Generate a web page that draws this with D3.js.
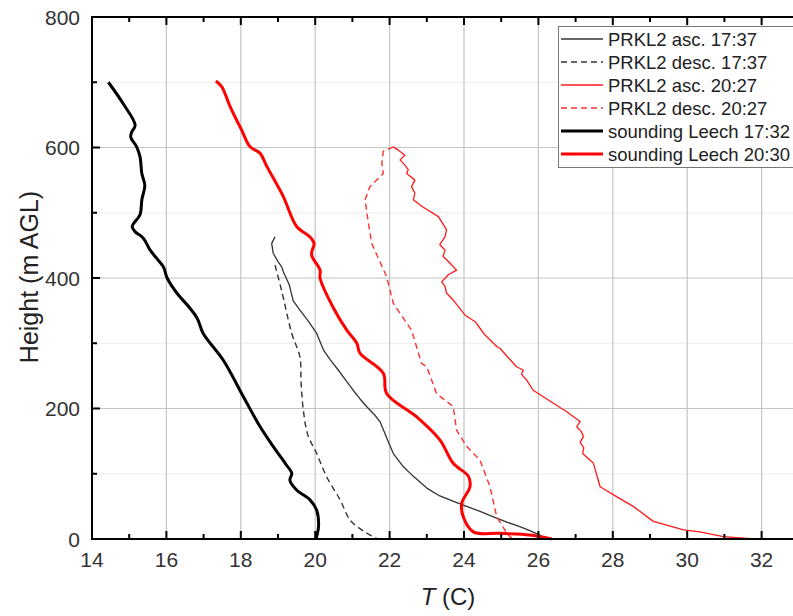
<!DOCTYPE html>
<html>
<head>
<meta charset="utf-8">
<script src="https://cdn.jsdelivr.net/npm/d3@7"></script>
<style>
  body { margin: 0; background: #fff; }
  svg { display: block; font-family: "Liberation Sans", Arial, sans-serif; }
</style>
</head>
<body>
<div id="chart"></div>
<script>
// Data: [temperature (C), height (m AGL)]
const soundingLeech1732 = [
  [14.44, 700], [14.84, 667], [15.16, 634], [15.07, 624], [15.04, 616], [15.2, 601],
  [15.29, 586], [15.34, 560], [15.42, 542], [15.34, 520], [15.29, 497], [15.08, 479],
  [15.16, 471], [15.38, 461], [15.56, 443], [15.74, 430], [15.92, 417], [16.02, 400],
  [16.28, 377], [16.63, 354], [16.83, 338], [16.99, 315], [17.53, 274], [18.07, 218],
  [18.52, 172], [18.87, 142], [19.23, 113], [19.37, 101], [19.32, 90], [19.5, 75],
  [19.86, 60], [20.04, 44], [20.09, 19], [20.04, 4], [20.02, 0]
];
const soundingLeech2030 = [
  [17.33, 702], [17.49, 693], [17.71, 663], [18.02, 627], [18.25, 601], [18.52, 591],
  [18.7, 571], [19.14, 525], [19.5, 479], [19.86, 463], [19.97, 453], [19.9, 436],
  [20.13, 412], [20.13, 400], [20.49, 354], [20.85, 320], [21.12, 300], [21.2, 285],
  [21.83, 254], [21.92, 223], [22.73, 187], [23.35, 152], [23.71, 116], [24.12, 96],
  [24.16, 80], [23.94, 55], [23.98, 34], [24.25, 11], [24.97, 8.7], [25.77, 6],
  [26.36, 0]
];
const prkl2Asc1737 = [
  [18.92, 463], [18.83, 453], [18.87, 438], [19.0, 425], [19.1, 417], [19.14, 410],
  [19.3, 390], [19.41, 365], [19.6, 350], [19.8, 335], [20.04, 315], [20.22, 290],
  [20.4, 275], [20.62, 259], [20.8, 245], [21.02, 228], [21.2, 215], [21.38, 203],
  [21.6, 190], [21.74, 180], [21.85, 165], [21.92, 155], [22.1, 131], [22.35, 112],
  [22.64, 96], [23.0, 78], [23.35, 66], [23.7, 58], [24.07, 50], [24.45, 42],
  [24.79, 34], [25.15, 26], [25.5, 19], [25.8, 12], [26.04, 6], [26.15, 0]
];
const prkl2Desc1737 = [
  [18.92, 420], [19.1, 380], [19.37, 315], [19.59, 279], [19.62, 240], [19.68, 198],
  [19.8, 160], [20.04, 131], [20.31, 95], [20.67, 60], [20.94, 29], [21.3, 12],
  [21.65, 1]
];
const prkl2Asc2027 = [
  [22.1, 601], [22.23, 596], [22.41, 588], [22.28, 581], [22.41, 573], [22.5, 566],
  [22.46, 560], [22.68, 550], [22.59, 540], [22.68, 530], [22.64, 520], [22.82, 512],
  [22.95, 507], [23.31, 494], [23.4, 486], [23.53, 474], [23.49, 463], [23.35, 451],
  [23.49, 443], [23.44, 433], [23.62, 423], [23.8, 412], [23.58, 405], [23.4, 394],
  [23.49, 387], [23.53, 377], [23.71, 366], [23.85, 356], [24.03, 343], [24.3, 333],
  [24.43, 323], [24.56, 313], [24.88, 295], [24.97, 292], [25.41, 264], [25.59, 259],
  [25.55, 252], [25.68, 244], [25.86, 228], [26.13, 218], [26.76, 195], [27.12, 180],
  [27.03, 172], [27.15, 165], [27.21, 157], [27.12, 148], [27.22, 140], [27.19, 131],
  [27.48, 116], [27.66, 80], [28.1, 65], [28.55, 50], [29.09, 27], [29.9, 14],
  [30.34, 11], [30.97, 3.5], [31.8, 0]
];
const prkl2Desc2027 = [
  [22.1, 601], [21.83, 594], [21.79, 576], [21.83, 560], [21.47, 540], [21.34, 520],
  [21.43, 484], [21.52, 453], [21.92, 402], [22.1, 361], [22.59, 320], [22.86, 269],
  [23.0, 264], [23.26, 223], [23.71, 203], [23.8, 167], [24.07, 142], [24.43, 121],
  [24.7, 80], [24.88, 34], [25.15, 9], [25.3, 0]
];

const legendLabels = [
  "PRKL2 asc. 17:37", "PRKL2 desc. 17:37", "PRKL2 asc. 20:27",
  "PRKL2 desc. 20:27", "sounding Leech 17:32", "sounding Leech 20:30"
];
const xTicks = [14, 16, 18, 20, 22, 24, 26, 28, 30, 32];
const yTicks = [0, 200, 400, 600, 800];

const width = 793, height = 616;
const plotLeft = 92, plotTop = 17, plotBottom = 539;

const x = d3.scaleLinear().domain([14, 33]).range([plotLeft, plotLeft + 19 * 37.2]);
const y = d3.scaleLinear().domain([0, 800]).range([plotBottom, plotTop]);
const plotRight = x(33.06);

const svg = d3.select("#chart").append("svg")
  .attr("width", width)
  .attr("height", height);

// Minor horizontal grid
svg.append("g")
  .selectAll("line")
  .data(d3.range(100, 800, 200))
  .join("line")
  .attr("x1", plotLeft).attr("x2", plotRight)
  .attr("y1", (d) => y(d)).attr("y2", (d) => y(d))
  .attr("stroke", "#ececec").attr("stroke-width", 1);

// Major grid
svg.append("g")
  .selectAll("line")
  .data(xTicks.slice(1))
  .join("line")
  .attr("x1", (d) => x(d)).attr("x2", (d) => x(d))
  .attr("y1", plotTop).attr("y2", plotBottom)
  .attr("stroke", "#c4c4c4").attr("stroke-width", 1.2);

svg.append("g")
  .selectAll("line")
  .data(yTicks.slice(1, -1))
  .join("line")
  .attr("x1", plotLeft).attr("x2", plotRight)
  .attr("y1", (d) => y(d)).attr("y2", (d) => y(d))
  .attr("stroke", "#c4c4c4").attr("stroke-width", 1.2);

// Curves
const line = d3.line()
  .x((d) => x(d[0]))
  .y((d) => y(d[1]));
const smooth = d3.line()
  .x((d) => x(d[0]))
  .y((d) => y(d[1]))
  .curve(d3.curveCatmullRom.alpha(0.5));

const series = [
  { data: prkl2Asc1737, color: "#333", w: 1.3, dash: null, gen: line },
  { data: prkl2Desc1737, color: "#333", w: 1.4, dash: "6,4", gen: smooth },
  { data: prkl2Asc2027, color: "#ff1a1a", w: 1.3, dash: null, gen: line },
  { data: prkl2Desc2027, color: "#ff3030", w: 1.4, dash: "6,4", gen: line },
  { data: soundingLeech1732, color: "#000", w: 3, dash: null, gen: smooth },
  { data: soundingLeech2030, color: "#ff0000", w: 3, dash: null, gen: smooth }
];

svg.append("g")
  .selectAll("path")
  .data(series)
  .join("path")
  .attr("d", (s) => s.gen(s.data))
  .attr("fill", "none")
  .attr("stroke", (s) => s.color)
  .attr("stroke-width", (s) => s.w)
  .attr("stroke-dasharray", (s) => s.dash)
  .attr("stroke-linejoin", "round");

// Axes with inward ticks
const axisG = svg.append("g").attr("stroke", "#000");
const xMinor = d3.range(15, 33, 2);
const yMinor = d3.range(100, 800, 200);

function tickLines(values, major, pos) {
  axisG.append("g")
    .selectAll("line")
    .data(values)
    .join("line")
    .each(function (d) {
      const len = major ? 8 : 5;
      const el = d3.select(this);
      if (pos === "bottom") el.attr("x1", x(d)).attr("x2", x(d)).attr("y1", plotBottom).attr("y2", plotBottom - len);
      if (pos === "top") el.attr("x1", x(d)).attr("x2", x(d)).attr("y1", plotTop).attr("y2", plotTop + len);
      if (pos === "left") el.attr("y1", y(d)).attr("y2", y(d)).attr("x1", plotLeft).attr("x2", plotLeft + len);
      if (pos === "right") el.attr("y1", y(d)).attr("y2", y(d)).attr("x1", plotRight).attr("x2", plotRight - len);
    })
    .attr("stroke-width", 2);
}
["bottom", "top"].forEach((p) => { tickLines(xTicks, true, p); tickLines(xMinor, false, p); });
["left", "right"].forEach((p) => { tickLines(yTicks, true, p); tickLines(yMinor, false, p); });

axisG.append("rect")
  .attr("x", plotLeft).attr("y", plotTop)
  .attr("width", plotRight - plotLeft).attr("height", plotBottom - plotTop)
  .attr("fill", "none").attr("stroke-width", 2);

// Tick labels
svg.append("g")
  .selectAll("text")
  .data(xTicks)
  .join("text")
  .attr("x", (d) => x(d)).attr("y", 567)
  .attr("text-anchor", "middle")
  .attr("font-size", 21).attr("fill", "#333")
  .text((d) => d);

svg.append("g")
  .selectAll("text")
  .data(yTicks)
  .join("text")
  .attr("x", 80).attr("y", (d) => y(d))
  .attr("dy", "0.36em")
  .attr("text-anchor", "end")
  .attr("font-size", 21).attr("fill", "#333")
  .text((d) => d);

// Axis titles
svg.append("text")
  .attr("transform", "translate(38,277) rotate(-90)")
  .attr("text-anchor", "middle")
  .attr("font-size", 25).attr("fill", "#222")
  .text("Height (m AGL)");

const xt = svg.append("text")
  .attr("x", 448).attr("y", 605)
  .attr("text-anchor", "middle")
  .attr("font-size", 24).attr("fill", "#222");
xt.append("tspan").attr("font-style", "italic").text("T");
xt.append("tspan").text(" (C)");

// Legend
const lg = svg.append("g");
lg.append("rect")
  .attr("x", 558.5).attr("y", 26.5)
  .attr("width", 260).attr("height", 141)
  .attr("fill", "#fff").attr("stroke", "#777").attr("stroke-width", 1);

const rowY = [39, 62, 85, 108, 131, 154];
const rows = lg.selectAll("g.row")
  .data(series)
  .join("g")
  .attr("class", "row")
  .attr("transform", (s, i) => `translate(0,${rowY[i]})`);
rows.append("line")
  .attr("x1", 561).attr("x2", 603)
  .attr("stroke", (s) => s.color)
  .attr("stroke-width", (s) => s.w)
  .attr("stroke-dasharray", (s) => s.dash);
rows.append("text")
  .attr("x", 608).attr("dy", "0.36em")
  .attr("font-size", 18.5).attr("fill", "#222")
  .text((s, i) => legendLabels[i]);
</script>
</body>
</html>
